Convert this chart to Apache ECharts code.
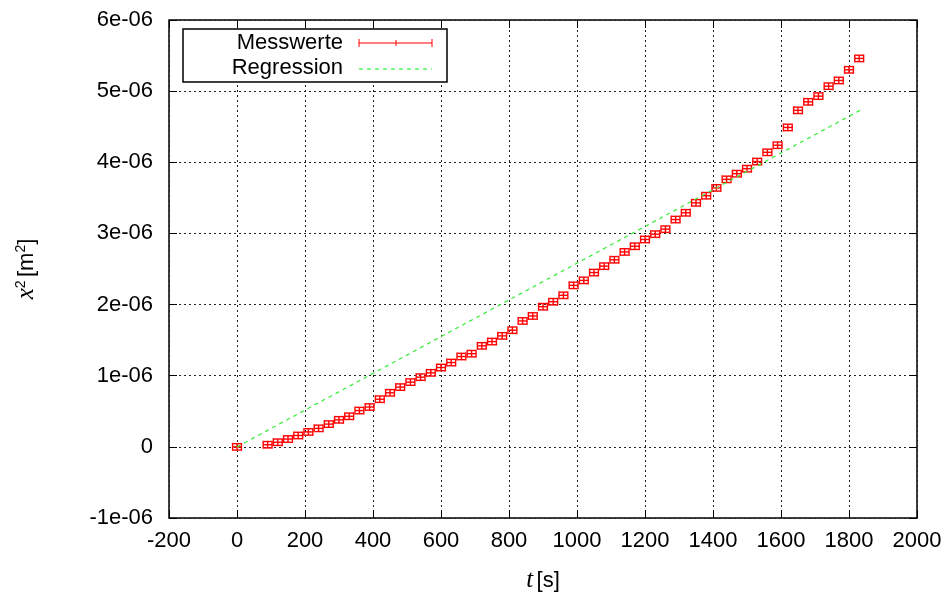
<!DOCTYPE html>
<html>
<head>
<meta charset="utf-8">
<script src="https://cdn.jsdelivr.net/npm/echarts@6/dist/echarts.min.js"></script>
<style>
  html, body { margin: 0; padding: 0; background: #fff; }
  #chart { width: 949px; height: 601px; }
</style>
</head>
<body>
<div id="chart"></div>
<script>
// Messzeitpunkte in s
const times = [0, 90, 120, 150, 180, 210, 240, 270, 300, 330,
  360, 390, 420, 450, 480, 510, 540, 570, 600, 630,
  660, 690, 720, 750, 780, 810, 840, 870, 900, 930,
  960, 990, 1020, 1050, 1080, 1110, 1140, 1170, 1200, 1230,
  1260, 1290, 1320, 1350, 1380, 1410, 1440, 1470, 1500, 1530,
  1560, 1590, 1620, 1650, 1680, 1710, 1740, 1770, 1800, 1830];
// x^2 in 1e-6 m^2
const x2Micro = [0, 0.03, 0.065, 0.11, 0.16, 0.21, 0.26, 0.32, 0.38, 0.43,
  0.51, 0.56, 0.67, 0.76, 0.84, 0.91, 0.98, 1.04, 1.115, 1.185,
  1.27, 1.31, 1.42, 1.48, 1.56, 1.64, 1.77, 1.84, 1.97, 2.04,
  2.13, 2.27, 2.34, 2.45, 2.54, 2.63, 2.74, 2.82, 2.915, 2.99,
  3.06, 3.195, 3.29, 3.43, 3.53, 3.64, 3.76, 3.84, 3.91, 4.01,
  4.14, 4.24, 4.49, 4.73, 4.85, 4.93, 5.07, 5.15, 5.30, 5.46];
const tErr = 13;        // s
const x2Err = 0.045e-6; // m^2

// Regressionsgerade (Endpunkte)
const regT = [0, 1840];
const regX2 = [0, 4.75e-6];

const xTickLabels = ['-200', '0', '200', '400', '600', '800', '1000', '1200', '1400', '1600', '1800', '2000'];
const yTickLabels = ['-1e-06', '0', '1e-06', '2e-06', '3e-06', '4e-06', '5e-06', '6e-06'];

const measData = times.map((t, i) => [t, x2Micro[i] * 1e-6]);
const regData = regT.map((t, i) => [t, regX2[i]]);

const RED = '#ff0000';
const GREEN = '#33ee33';
const FONT = 'Liberation Sans';

function errorBar(params, api) {
  const t = api.value(0), y = api.value(1);
  const l = api.coord([t - tErr, y]), r = api.coord([t + tErr, y]);
  const top = api.coord([t, y + x2Err]), bot = api.coord([t, y - x2Err]);
  const cap = 4;
  const st = { stroke: RED, lineWidth: 1.4 };
  const ln = (x1, y1, x2, y2) => ({ type: 'line', shape: { x1, y1, x2, y2 }, style: st });
  return {
    type: 'group',
    children: [
      ln(l[0], l[1], r[0], r[1]),
      ln(l[0], l[1] - cap, l[0], l[1] + cap),
      ln(r[0], r[1] - cap, r[0], r[1] + cap),
      ln(top[0], top[1], bot[0], bot[1]),
      ln(top[0] - cap, top[1], top[0] + cap, top[1]),
      ln(bot[0] - cap, bot[1], bot[0] + cap, bot[1])
    ]
  };
}

const gridLine = { show: true, lineStyle: { color: '#222', type: [2, 3], width: 1 } };
const tickIn = { show: true, inside: true, length: 8, lineStyle: { color: '#000' } };
const noLine = { show: false, onZero: false };

const chart = echarts.init(document.getElementById('chart'), null, { renderer: 'canvas' });
chart.setOption({
  animation: false,
  backgroundColor: '#fff',
  grid: { left: 169, right: 32, top: 20, bottom: 83, show: true, borderColor: '#000', borderWidth: 1.5, backgroundColor: 'transparent' },
  xAxis: [{
    type: 'value', min: -200, max: 2000, interval: 200,
    axisLine: noLine,
    axisTick: tickIn,
    splitLine: gridLine,
    axisLabel: {
      margin: 12, fontSize: 22, fontFamily: FONT, color: '#000',
      formatter: v => xTickLabels[Math.round((v + 200) / 200)]
    },
    name: '{i|t} {n|[s]}',
    nameLocation: 'middle', nameGap: 50,
    nameTextStyle: {
      rich: {
        i: { fontFamily: 'Liberation Serif', fontStyle: 'italic', fontSize: 25, color: '#000' },
        n: { fontFamily: FONT, fontSize: 22, color: '#000' }
      }
    }
  }, {
    type: 'value', position: 'top', min: -200, max: 2000, interval: 200,
    axisLine: noLine, axisTick: tickIn, axisLabel: { show: false }, splitLine: { show: false }
  }],
  yAxis: [{
    type: 'value', min: -1e-6, max: 6e-6, interval: 1e-6,
    axisLine: noLine,
    axisTick: tickIn,
    splitLine: gridLine,
    axisLabel: {
      margin: 16, fontSize: 22, fontFamily: FONT, color: '#000',
      formatter: v => yTickLabels[Math.round(v / 1e-6) + 1]
    },
    name: '{i|x}{s|2} {n|[m}{s|2}{n|]}',
    nameLocation: 'middle', nameGap: 130,
    nameTextStyle: {
      rich: {
        i: { fontFamily: 'Liberation Serif', fontStyle: 'italic', fontSize: 25, color: '#000' },
        n: { fontFamily: FONT, fontSize: 22, color: '#000' },
        s: { fontFamily: FONT, fontSize: 14, color: '#000', verticalAlign: 'top' }
      }
    }
  }, {
    type: 'value', position: 'right', min: -1e-6, max: 6e-6, interval: 1e-6,
    axisLine: noLine, axisTick: tickIn, axisLabel: { show: false }, splitLine: { show: false }
  }],
  series: [{
    name: 'Messwerte',
    type: 'custom',
    renderItem: errorBar,
    data: measData,
    encode: { x: 0, y: 1 },
    z: 3
  }, {
    name: 'Regression',
    type: 'line',
    data: regData,
    showSymbol: false,
    lineStyle: { color: GREEN, width: 1.2, type: [4, 4] },
    z: 4
  }],
  graphic: [
    { type: 'rect', shape: { x: 183, y: 29, width: 264, height: 53 }, style: { fill: '#fff', stroke: '#000', lineWidth: 1.5 }, z: 10 },
    { type: 'text', x: 343, y: 43, style: { text: 'Messwerte', fontSize: 22, fontFamily: FONT, fill: '#000', align: 'right', verticalAlign: 'middle' }, z: 11 },
    { type: 'text', x: 343, y: 68, style: { text: 'Regression', fontSize: 22, fontFamily: FONT, fill: '#000', align: 'right', verticalAlign: 'middle' }, z: 11 },
    { type: 'line', shape: { x1: 359, y1: 43, x2: 432, y2: 43 }, style: { stroke: RED, lineWidth: 1 }, z: 11 },
    { type: 'line', shape: { x1: 359, y1: 39, x2: 359, y2: 47 }, style: { stroke: RED, lineWidth: 1 }, z: 11 },
    { type: 'line', shape: { x1: 432, y1: 39, x2: 432, y2: 47 }, style: { stroke: RED, lineWidth: 1 }, z: 11 },
    { type: 'line', shape: { x1: 396, y1: 40, x2: 396, y2: 46 }, style: { stroke: RED, lineWidth: 1 }, z: 11 },
    { type: 'line', shape: { x1: 359, y1: 69, x2: 432, y2: 69 }, style: { stroke: GREEN, lineWidth: 1.2, lineDash: [4, 4] }, z: 11 }
  ]
});
</script>
</body>
</html>
